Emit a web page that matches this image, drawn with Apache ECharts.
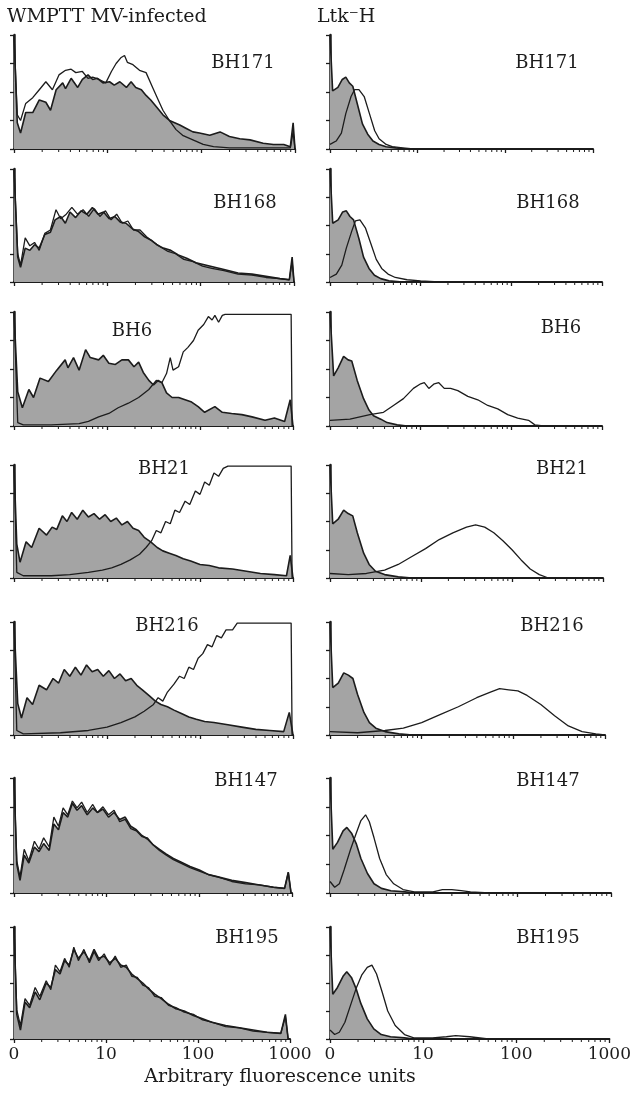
<!DOCTYPE html>
<html><head><meta charset="utf-8">
<script src="https://cdn.jsdelivr.net/npm/echarts@6/dist/echarts.min.js"></script>
<style>html,body{margin:0;padding:0;background:#fff}#c{width:634px;height:1093px}</style>
</head><body><div id="c"></div>
<script>
// x = log10(arbitrary fluorescence units), y = % of panel full scale
const tickLabels = ['0', '10', '100', '1000'];
const minorTickUnits = [2,3,4,5,6,7,8,9,20,30,40,50,60,70,80,90,200,300,400,500,600,700,800,900];
const samples = ['BH171', 'BH168', 'BH6', 'BH21', 'BH216', 'BH147', 'BH195'];

// WMPTT MV-infected panels: control (filled) and stained (open)
const wmCtrl_BH171 = [[0,100],[0.035,23],[0.07,14],[0.125,32],[0.2,32],[0.27,43],[0.34,41],[0.39,34],[0.45,52],[0.52,58],[0.55,53],[0.61,62],[0.68,54],[0.73,61],[0.79,65],[0.84,61],[0.89,62],[0.95,58],[1.02,59],[1.07,56],[1.13,59],[1.2,54],[1.25,59],[1.3,54],[1.36,52],[1.41,47],[1.46,43],[1.52,37],[1.59,30],[1.66,25],[1.77,21],[1.84,18],[1.91,15],[1.98,14],[2.09,12],[2.2,15],[2.3,11],[2.41,9],[2.52,8],[2.66,5],[2.77,4],[2.88,4],[2.95,2],[2.98,23],[3,0]];
const wmStain_BH171 = [[0,100],[0.035,30],[0.07,25],[0.125,40],[0.2,45],[0.27,52],[0.34,59],[0.41,52],[0.48,65],[0.55,69],[0.61,70],[0.66,67],[0.73,68],[0.79,62],[0.84,63],[0.91,61],[0.98,58],[1.04,68],[1.09,75],[1.14,80],[1.18,82],[1.21,76],[1.27,74],[1.34,69],[1.41,67],[1.48,54],[1.54,43],[1.59,34],[1.66,25],[1.73,17],[1.8,12],[1.91,8],[2.02,4],[2.13,2],[2.3,1],[2.6,1],[2.95,1],[2.98,15],[3,0]];
const wmCtrl_BH168 = [[0,100],[0.04,22],[0.07,13],[0.12,30],[0.17,28],[0.22,33],[0.27,30],[0.33,42],[0.39,44],[0.44,55],[0.5,58],[0.55,52],[0.6,62],[0.66,57],[0.72,63],[0.78,60],[0.84,66],[0.9,60],[0.96,62],[1.02,56],[1.08,58],[1.14,53],[1.2,52],[1.27,47],[1.33,45],[1.4,40],[1.47,37],[1.53,33],[1.6,30],[1.68,28],[1.76,24],[1.85,21],[1.95,17],[2.05,15],[2.15,13],[2.25,11],[2.4,8],[2.55,7],[2.7,5],[2.85,3],[2.95,2],[2.98,22],[3,0]];
const wmStain_BH168 = [[0,100],[0.04,25],[0.07,15],[0.12,39],[0.17,32],[0.22,35],[0.27,28],[0.33,43],[0.39,46],[0.45,64],[0.5,56],[0.56,60],[0.62,66],[0.68,60],[0.74,64],[0.8,58],[0.86,65],[0.92,58],[0.98,63],[1.04,55],[1.1,60],[1.16,52],[1.22,54],[1.28,46],[1.35,46],[1.42,40],[1.5,35],[1.57,31],[1.65,27],[1.73,25],[1.82,20],[1.92,18],[2.02,14],[2.12,12],[2.25,10],[2.4,7],[2.55,6],[2.7,4],[2.85,3],[2.95,2],[2.98,18],[3,0]];
const wmCtrl_BH6 = [[0,100],[0.04,30],[0.09,16],[0.16,32],[0.21,25],[0.28,42],[0.37,39],[0.46,49],[0.55,58],[0.58,51],[0.64,60],[0.7,49],[0.77,67],[0.82,60],[0.91,58],[0.96,62],[1.02,55],[1.09,54],[1.16,58],[1.23,58],[1.29,52],[1.34,56],[1.39,47],[1.45,40],[1.5,36],[1.55,40],[1.59,38],[1.64,29],[1.7,25],[1.77,25],[1.84,23],[1.91,21],[1.98,17],[2.05,12],[2.16,17],[2.24,12],[2.34,11],[2.45,10],[2.56,8],[2.7,5],[2.8,7],[2.91,4],[2.97,23],[3,0]];
const wmStain_BH6 = [[0,100],[0.04,3],[0.1,1],[0.4,1],[0.7,2],[0.8,4],[0.91,8],[1.02,11],[1.12,16],[1.23,20],[1.34,25],[1.45,32],[1.53,40],[1.59,38],[1.64,46],[1.68,60],[1.71,49],[1.77,52],[1.82,65],[1.87,69],[1.93,75],[1.98,84],[2.04,89],[2.09,96],[2.13,93],[2.16,97],[2.2,91],[2.24,97],[2.27,98],[2.98,98],[2.99,0]];
const wmCtrl_BH21 = [[0,100],[0.03,30],[0.065,14],[0.13,32],[0.19,27],[0.27,44],[0.35,38],[0.41,45],[0.46,43],[0.52,55],[0.57,50],[0.62,58],[0.68,52],[0.74,60],[0.8,54],[0.86,57],[0.92,52],[0.98,56],[1.04,50],[1.1,53],[1.16,47],[1.22,50],[1.28,44],[1.34,42],[1.4,36],[1.47,32],[1.54,27],[1.6,24],[1.67,22],[1.74,20],[1.82,17],[1.9,15],[2.0,12],[2.1,11],[2.2,9],[2.35,8],[2.5,6],[2.65,4],[2.8,3],[2.93,2],[2.97,20],[3,0]];
const wmStain_BH21 = [[0,100],[0.03,5],[0.1,2],[0.4,2],[0.6,3],[0.8,5],[0.95,7],[1.05,9],[1.15,12],[1.25,16],[1.35,21],[1.42,27],[1.48,33],[1.53,42],[1.58,40],[1.63,50],[1.68,48],[1.73,60],[1.78,58],[1.84,68],[1.89,65],[1.95,77],[2.0,74],[2.05,85],[2.1,82],[2.15,93],[2.2,90],[2.25,97],[2.3,99],[2.98,99],[2.99,0]];
const wmCtrl_BH216 = [[0,100],[0.04,28],[0.08,15],[0.14,33],[0.2,27],[0.27,44],[0.35,40],[0.42,50],[0.48,46],[0.54,58],[0.6,52],[0.66,60],[0.72,53],[0.78,62],[0.84,56],[0.9,58],[0.96,52],[1.02,57],[1.08,50],[1.14,54],[1.2,48],[1.26,50],[1.32,44],[1.38,40],[1.45,35],[1.52,30],[1.58,27],[1.65,25],[1.72,22],[1.8,19],[1.88,16],[1.96,14],[2.05,12],[2.15,11],[2.3,9],[2.45,7],[2.6,5],[2.75,4],[2.9,3],[2.96,20],[3,0]];
const wmStain_BH216 = [[0,100],[0.03,4],[0.1,1],[0.5,2],[0.8,4],[1.0,7],[1.15,11],[1.3,16],[1.4,21],[1.5,27],[1.55,33],[1.6,30],[1.65,38],[1.72,45],[1.78,52],[1.83,50],[1.88,60],[1.93,58],[1.98,68],[2.03,72],[2.08,80],[2.13,78],[2.18,88],[2.23,86],[2.28,93],[2.35,93],[2.4,99],[2.98,99],[2.99,0]];
const wmCtrl_BH147 = [[0,100],[0.03,25],[0.065,11],[0.11,33],[0.16,26],[0.22,40],[0.27,36],[0.32,43],[0.38,37],[0.43,60],[0.48,55],[0.53,70],[0.58,66],[0.63,78],[0.68,72],[0.73,76],[0.79,68],[0.85,74],[0.9,70],[0.96,73],[1.02,66],[1.08,70],[1.14,64],[1.2,66],[1.26,58],[1.32,55],[1.38,50],[1.44,47],[1.5,42],[1.57,38],[1.64,34],[1.72,30],[1.8,27],[1.9,23],[2.0,20],[2.1,16],[2.2,14],[2.35,11],[2.5,9],[2.65,7],[2.8,5],[2.92,4],[2.96,18],[2.99,0]];
const wmStain_BH147 = [[0,100],[0.03,28],[0.065,14],[0.11,38],[0.16,28],[0.22,45],[0.27,38],[0.32,48],[0.38,40],[0.43,66],[0.48,58],[0.53,74],[0.58,68],[0.63,80],[0.68,74],[0.73,79],[0.79,70],[0.85,77],[0.9,70],[0.96,75],[1.02,68],[1.08,72],[1.14,62],[1.2,64],[1.26,56],[1.32,54],[1.38,49],[1.44,48],[1.5,42],[1.57,37],[1.64,33],[1.72,29],[1.8,26],[1.9,22],[2.0,19],[2.1,16],[2.2,14],[2.35,10],[2.5,8],[2.65,7],[2.8,5],[2.92,4],[2.96,18],[2.99,0]];
const wmCtrl_BH195 = [[0,100],[0.03,22],[0.07,8],[0.12,33],[0.17,28],[0.23,42],[0.28,35],[0.35,50],[0.4,46],[0.45,62],[0.5,58],[0.55,70],[0.6,66],[0.65,80],[0.7,72],[0.76,78],[0.82,70],[0.87,80],[0.92,72],[0.98,74],[1.04,68],[1.1,72],[1.16,66],[1.22,64],[1.28,58],[1.34,54],[1.4,50],[1.46,45],[1.53,40],[1.6,36],[1.68,31],[1.76,27],[1.85,25],[1.95,21],[2.05,18],[2.15,15],[2.3,12],[2.45,10],[2.6,8],[2.75,6],[2.9,5],[2.95,22],[2.98,0]];
const wmStain_BH195 = [[0,100],[0.03,26],[0.07,12],[0.12,36],[0.17,30],[0.23,46],[0.28,38],[0.35,52],[0.4,44],[0.45,66],[0.5,60],[0.55,72],[0.6,64],[0.65,82],[0.7,70],[0.76,80],[0.82,68],[0.87,78],[0.92,70],[0.98,76],[1.04,66],[1.1,74],[1.16,64],[1.22,66],[1.28,56],[1.34,55],[1.4,48],[1.46,46],[1.53,38],[1.6,37],[1.68,30],[1.76,28],[1.85,24],[1.95,22],[2.05,17],[2.15,15],[2.3,11],[2.45,10],[2.6,7],[2.75,6],[2.9,5],[2.95,20],[2.98,0]];

// Ltk-H panels
const ltCtrl_BH171 = [[0,100],[0.03,51],[0.09,54],[0.14,61],[0.18,63],[0.22,58],[0.26,55],[0.32,37],[0.37,22],[0.43,13],[0.49,7],[0.56,4],[0.64,2],[0.75,1],[0.87,0],[3,0]];
const ltStain_BH171 = [[0,4],[0.07,7],[0.13,14],[0.18,31],[0.24,46],[0.28,52],[0.33,52],[0.39,46],[0.45,31],[0.51,16],[0.56,9],[0.64,4],[0.71,2],[0.83,1],[0.95,0],[3,0]];
const ltCtrl_BH168 = [[0,100],[0.03,52],[0.09,55],[0.14,62],[0.18,63],[0.22,58],[0.26,55],[0.32,38],[0.37,22],[0.43,12],[0.49,6],[0.56,3],[0.65,1],[0.8,0],[3,0]];
const ltStain_BH168 = [[0,4],[0.07,7],[0.13,15],[0.18,30],[0.24,45],[0.28,54],[0.33,55],[0.39,48],[0.45,34],[0.51,20],[0.57,12],[0.64,7],[0.72,4],[0.85,2],[1.0,1],[1.2,0],[3,0]];
const ltCtrl_BH6 = [[0,100],[0.04,44],[0.09,51],[0.15,61],[0.2,58],[0.24,57],[0.3,40],[0.37,24],[0.43,14],[0.48,9],[0.56,6],[0.63,3],[0.74,1],[0.85,0],[3,0]];
const ltStain_BH6 = [[0,5],[0.22,6],[0.44,10],[0.59,12],[0.7,18],[0.81,24],[0.92,33],[1.0,37],[1.04,38],[1.09,33],[1.15,37],[1.2,38],[1.26,33],[1.33,33],[1.41,31],[1.52,26],[1.63,23],[1.74,18],[1.85,15],[1.96,10],[2.07,7],[2.19,5],[2.26,1],[2.35,0],[3,0]];
const ltCtrl_BH21 = [[0,100],[0.03,48],[0.09,52],[0.15,60],[0.2,57],[0.25,55],[0.3,40],[0.37,22],[0.43,12],[0.5,6],[0.6,3],[0.75,1],[0.9,0],[3,0]];
const ltStain_BH21 = [[0,4],[0.2,3],[0.4,4],[0.6,7],[0.75,12],[0.9,19],[1.05,26],[1.2,34],[1.35,40],[1.5,45],[1.6,47],[1.7,45],[1.8,40],[1.9,33],[2.0,25],[2.1,16],[2.2,8],[2.3,3],[2.4,0],[3,0]];
const ltCtrl_BH216 = [[0,100],[0.03,42],[0.09,46],[0.15,55],[0.2,53],[0.25,50],[0.3,36],[0.37,20],[0.43,11],[0.5,6],[0.6,3],[0.75,1],[0.9,0],[3,0]];
const ltStain_BH216 = [[0,3],[0.3,2],[0.6,4],[0.8,6],[1.0,11],[1.2,18],[1.4,25],[1.6,33],[1.75,38],[1.85,41],[1.95,40],[2.05,39],[2.15,35],[2.3,27],[2.45,17],[2.6,8],[2.75,3],[2.9,1],[3,0]];
const ltCtrl_BH147 = [[0,100],[0.03,38],[0.08,44],[0.14,54],[0.18,57],[0.23,52],[0.28,43],[0.33,30],[0.4,17],[0.47,8],[0.55,4],[0.65,2],[0.8,1],[0.9,0],[3,0]];
const ltStain_BH147 = [[0,10],[0.05,5],[0.1,8],[0.15,20],[0.22,38],[0.28,52],[0.33,63],[0.38,68],[0.42,62],[0.47,48],[0.53,30],[0.6,16],[0.68,8],[0.78,3],[0.9,1],[1.1,1],[1.2,3],[1.3,3],[1.4,2],[1.5,1],[1.7,0],[3,0]];
const ltCtrl_BH195 = [[0,100],[0.03,40],[0.08,46],[0.14,56],[0.18,60],[0.23,55],[0.28,45],[0.33,32],[0.4,18],[0.47,9],[0.55,4],[0.65,2],[0.8,1],[0.9,0],[3,0]];
const ltStain_BH195 = [[0,8],[0.05,4],[0.1,6],[0.16,15],[0.22,30],[0.28,45],[0.34,57],[0.4,64],[0.45,66],[0.5,58],[0.56,42],[0.62,25],[0.7,12],[0.8,4],[0.9,1],[1.1,1],[1.25,2],[1.35,3],[1.5,2],[1.7,0],[3,0]];

const wmCtrl = [wmCtrl_BH171, wmCtrl_BH168, wmCtrl_BH6, wmCtrl_BH21, wmCtrl_BH216, wmCtrl_BH147, wmCtrl_BH195];
const wmStain = [wmStain_BH171, wmStain_BH168, wmStain_BH6, wmStain_BH21, wmStain_BH216, wmStain_BH147, wmStain_BH195];
const ltCtrl = [ltCtrl_BH171, ltCtrl_BH168, ltCtrl_BH6, ltCtrl_BH21, ltCtrl_BH216, ltCtrl_BH147, ltCtrl_BH195];
const ltStain = [ltStain_BH171, ltStain_BH168, ltStain_BH6, ltStain_BH21, ltStain_BH216, ltStain_BH147, ltStain_BH195];

// layout (pixels)
const rowTop = [35, 169, 312, 465, 622, 778, 927];
const rowBottom = [149, 282, 426, 578, 735, 893, 1039];
const leftX0 = 14, leftX1 = [295, 294, 293, 293, 293, 292, 290];
const rightX0 = 330, rightX1 = [593, 602, 602, 603, 605, 611, 611];
const labelPosL = [[243, 72], [245, 212], [132, 340], [164, 478], [167, 635], [246, 790], [247, 947]];
const labelPosR = [[547, 72], [548, 212], [561, 337], [562, 478], [552, 635], [548, 790], [548, 947]];

const FONT = 'DejaVu Serif';
const INK = '#1c1c1c';
const GRAY = '#a4a4a4';

const grid = [], xAxis = [], yAxis = [], series = [], graphic = [];
function addPanel(idx, x0, x1, top, bottom, ctrl, stain, showLabels) {
  grid.push({left: x0, top: top, width: x1 - x0, height: bottom - top, containLabel: false});
  xAxis.push({
    type: 'value', gridIndex: idx, min: 0, max: 3, interval: 1,
    axisLine: {show: true, onZero: false, lineStyle: {color: INK, width: 2}},
    axisTick: {show: true, inside: false, length: 4, lineStyle: {color: INK, width: 1.3}},
    axisLabel: {show: showLabels, formatter: v => tickLabels[Math.round(v)], fontFamily: FONT, fontSize: 17, color: INK, margin: 7},
    splitLine: {show: false}
  });
  yAxis.push({
    type: 'value', gridIndex: idx, min: 0, max: 100, interval: 25,
    axisLine: {show: true, lineStyle: {color: INK, width: 2.5}},
    axisTick: {show: true, inside: false, length: 4, lineStyle: {color: INK, width: 1.3}},
    axisLabel: {show: false}, splitLine: {show: false}
  });
  series.push({
    type: 'line', xAxisIndex: idx, yAxisIndex: idx, data: ctrl, showSymbol: false, symbol: 'none',
    lineStyle: {color: INK, width: 1.6}, areaStyle: {color: GRAY, opacity: 1}, z: 2, silent: true, animation: false
  });
  series.push({
    type: 'line', xAxisIndex: idx, yAxisIndex: idx, data: stain, showSymbol: false, symbol: 'none',
    lineStyle: {color: INK, width: 1.3}, z: 3, silent: true, animation: false
  });
  series.push({
    type: 'custom', xAxisIndex: idx, yAxisIndex: idx, silent: true, animation: false, clip: false, z: 4,
    data: minorTickUnits.map(v => [Math.log10(v)]),
    renderItem: function (params, api) {
      const p = api.coord([api.value(0), 0]);
      return {type: 'line', shape: {x1: p[0], y1: p[1], x2: p[0], y2: p[1] + 3}, style: {stroke: INK, lineWidth: 1}};
    }
  });
}

for (let r = 0; r < 7; r++) {
  const last = r === 6;
  addPanel(r * 2, leftX0, leftX1[r], rowTop[r], rowBottom[r], wmCtrl[r], wmStain[r], last);
  addPanel(r * 2 + 1, rightX0, rightX1[r], rowTop[r], rowBottom[r], ltCtrl[r], ltStain[r], last);
  graphic.push({type: 'text', x: labelPosL[r][0], y: labelPosL[r][1], style: {text: samples[r], font: '18px "' + FONT + '"', fill: INK, textAlign: 'center', textVerticalAlign: 'bottom'}});
  graphic.push({type: 'text', x: labelPosR[r][0], y: labelPosR[r][1], style: {text: samples[r], font: '18px "' + FONT + '"', fill: INK, textAlign: 'center', textVerticalAlign: 'bottom'}});
}
graphic.push({type: 'text', x: 7, y: 27, style: {text: 'WMPTT MV-infected', font: '19px "' + FONT + '"', fill: INK, textAlign: 'left', textVerticalAlign: 'bottom'}});
graphic.push({type: 'text', x: 317, y: 27, style: {text: 'Ltk\u207BH', font: '19px "' + FONT + '"', fill: INK, textAlign: 'left', textVerticalAlign: 'bottom'}});
graphic.push({type: 'text', x: 280, y: 1087, style: {text: 'Arbitrary fluorescence units', font: '19px "' + FONT + '"', fill: INK, textAlign: 'center', textVerticalAlign: 'bottom'}});

const chart = echarts.init(document.getElementById('c'), null, {renderer: 'canvas'});
chart.setOption({backgroundColor: '#ffffff', animation: false, grid, xAxis, yAxis, series, graphic});
</script></body></html>
